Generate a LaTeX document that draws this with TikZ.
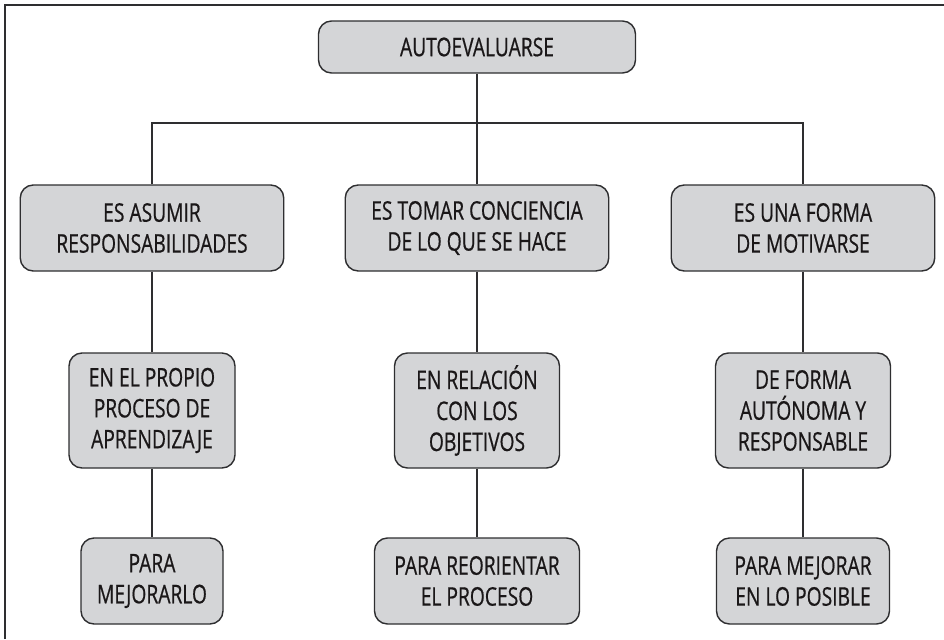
\documentclass[tikz,border=0pt]{standalone}
\usepackage{fontspec}
\setmainfont{Open Sans}[FakeStretch=0.75,FakeBold=0.6]
\usepackage{xcolor}
\usepackage{tikz}
\definecolor{boxfill}{HTML}{D4D5D7}
\definecolor{boxline}{HTML}{2E2E30}
\definecolor{ink}{HTML}{1A1718}

\tikzset{
  box/.style={draw=boxline, fill=boxfill, line width=0.8pt, rounded corners=0.26cm,
    align=center, text=ink, inner sep=0pt,
    font=\fontsize{14.6}{17.6}\selectfont},
  link/.style={draw=boxline, line width=0.65pt}
}

\begin{document}
\begin{tikzpicture}
    \useasboundingbox (0,0) rectangle (18.88,-12.78);
    % frame
    \draw[link] (0.10,-12.78) -- (0.10,-0.10) -- (18.88,-0.10);

    % Top node
    \node[box, minimum width=6.34cm, minimum height=1.04cm] (top) at (9.54,-0.94) {AUTOEVALUARSE};

    % First row
    \node[box, minimum width=5.27cm, minimum height=1.72cm] (l1a) at (3.04,-4.56) {ES ASUMIR\\RESPONSABILIDADES};
    \node[box, minimum width=5.27cm, minimum height=1.72cm] (l1b) at (9.54,-4.56) {ES TOMAR CONCIENCIA\\DE LO QUE SE HACE};
    \node[box, minimum width=5.27cm, minimum height=1.72cm] (l1c) at (16.06,-4.56) {ES UNA FORMA\\DE MOTIVARSE};

    % Second row
    \node[box, minimum width=3.32cm, minimum height=2.30cm] (l2a) at (3.04,-8.21) {EN EL PROPIO\\PROCESO DE\\APRENDIZAJE};
    \node[box, minimum width=3.30cm, minimum height=2.30cm] (l2b) at (9.54,-8.21) {EN RELACIÓN\\CON LOS\\OBJETIVOS};
    \node[box, minimum width=3.50cm, minimum height=2.30cm] (l2c) at (16.06,-8.21) {DE FORMA\\AUTÓNOMA Y\\RESPONSABLE};

    % Third row
    \node[box, minimum width=2.84cm, minimum height=1.72cm] (l3a) at (3.04,-11.62) {PARA\\MEJORARLO};
    \node[box, minimum width=4.10cm, minimum height=1.72cm] (l3b) at (9.54,-11.62) {PARA REORIENTAR\\EL PROCESO};
    \node[box, minimum width=3.46cm, minimum height=1.72cm] (l3c) at (16.06,-11.62) {PARA MEJORAR\\EN LO POSIBLE};

    % Connectors
    \coordinate (bus) at (9.54,-2.46);
    \draw[link] (top) -- (l1b);
    \draw[link] (l1a) |- (bus) -| (l1c);
    \foreach \c in {a,b,c} {
      \draw[link] (l1\c) -- (l2\c);
      \draw[link] (l2\c) -- (l3\c);
    }
\end{tikzpicture}
\end{document}
